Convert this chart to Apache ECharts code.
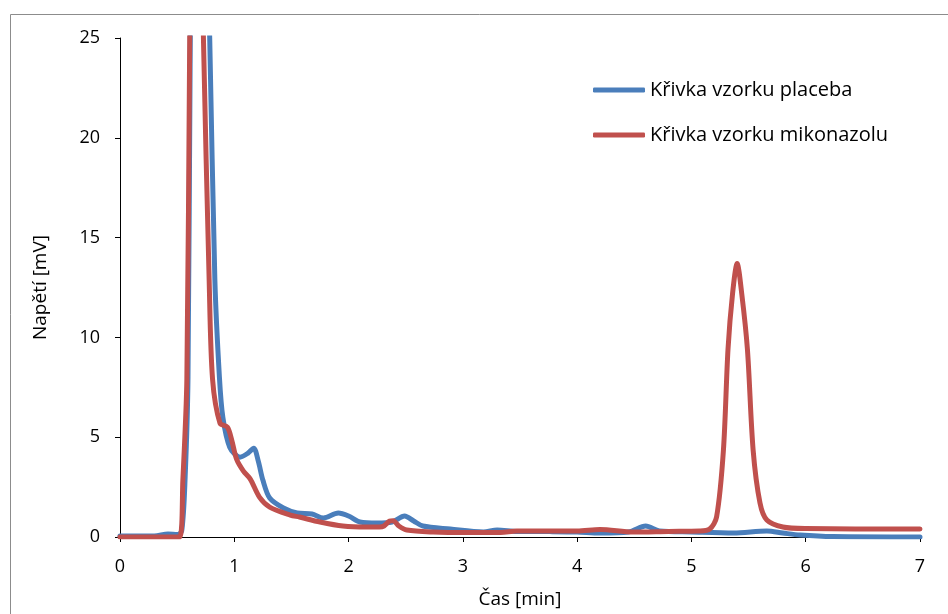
<!DOCTYPE html>
<html>
<head>
<meta charset="utf-8">
<script src="https://cdn.jsdelivr.net/npm/echarts@6/dist/echarts.min.js"></script>
<style>
html, body { margin: 0; padding: 0; background: #fff; }
#chart { width: 948px; height: 614px; }
</style>
</head>
<body>
<div id="chart"></div>
<script>
// cas [min] a napeti [mV]
var placeboTime = [0, 0.3, 0.42, 0.5, 0.54, 0.57, 0.595, 0.615, 0.65, 0.69, 0.74, 0.785, 0.83, 0.87, 0.9, 0.96, 1.05, 1.12, 1.17, 1.21, 1.25, 1.31, 1.43, 1.55, 1.68, 1.78, 1.91, 2.0, 2.1, 2.25, 2.38, 2.49, 2.57, 2.65, 2.89, 3.18, 3.3, 3.47, 3.76, 4.0, 4.2, 4.45, 4.6, 4.72, 5.0, 5.37, 5.66, 5.8, 5.95, 6.24, 7.0];
var placeboValue = [0.05, 0.05, 0.15, 0.12, 0.3, 3.0, 8.0, 25, 42, 45, 35, 25, 12.9, 8.0, 6.0, 4.5, 4.0, 4.2, 4.45, 3.8, 2.85, 1.95, 1.45, 1.2, 1.15, 0.95, 1.2, 1.05, 0.75, 0.7, 0.75, 1.05, 0.8, 0.55, 0.4, 0.25, 0.35, 0.28, 0.27, 0.25, 0.2, 0.25, 0.55, 0.3, 0.25, 0.2, 0.3, 0.2, 0.1, 0.02, 0.0];

var mikoTime = [0, 0.52, 0.55, 0.585, 0.61, 0.64, 0.67, 0.70, 0.73, 0.78, 0.81, 0.875, 0.94, 0.98, 1.02, 1.08, 1.14, 1.22, 1.31, 1.49, 1.57, 1.75, 1.95, 2.16, 2.27, 2.31, 2.36, 2.39, 2.44, 2.51, 2.74, 3.03, 3.33, 3.47, 3.76, 4.0, 4.2, 4.49, 4.8, 5.07, 5.16, 5.22, 5.28, 5.32, 5.36, 5.40, 5.44, 5.49, 5.54, 5.6, 5.66, 5.8, 6.0, 7.0];
var mikoValue = [0, 0, 2.85, 7.9, 25, 40, 42, 35, 25, 12.9, 7.9, 5.7, 5.5, 4.8, 3.9, 3.3, 2.9, 2.0, 1.5, 1.1, 1.0, 0.75, 0.55, 0.5, 0.5, 0.55, 0.8, 0.82, 0.55, 0.35, 0.25, 0.22, 0.22, 0.3, 0.3, 0.3, 0.38, 0.25, 0.28, 0.3, 0.4, 1.0, 4.35, 9.4, 12.2, 13.7, 12.2, 9.4, 4.35, 1.7, 0.85, 0.5, 0.42, 0.4];

var xTicks = [0, 1, 2, 3, 4, 5, 6, 7];
var yTicks = [0, 5, 10, 15, 20, 25];

function pairs(t, v) {
	var out = [];
	for (var i = 0; i < t.length; i++) {
		out.push([t[i], v[i]]);
	}
	return out;
}

var myChart = echarts.init(document.getElementById('chart'));
var font = '"Open Sans", "Noto Sans", sans-serif';

var option = {
	animation: false,
	backgroundColor: '#fff',
	textStyle: { fontFamily: font },
	graphic: [{
		type: 'rect',
		shape: { x: 10.5, y: 14.5, width: 960, height: 640 },
		style: { fill: 'none', stroke: '#8c8c8c', lineWidth: 1 },
		silent: true
	}],
	grid: { left: 120, right: 28, top: 38, bottom: 77, containLabel: false, outerBoundsMode: 'none' },
	legend: {
		orient: 'vertical',
		left: 588,
		top: 75,
		itemWidth: 52,
		itemHeight: 5,
		itemGap: 25,
		icon: 'roundRect',
		textStyle: { fontSize: 20, color: '#000', fontFamily: font },
		data: ['Křivka vzorku placeba', 'Křivka vzorku mikonazolu']
	},
	xAxis: {
		type: 'value',
		min: xTicks[0],
		max: xTicks[xTicks.length - 1],
		interval: 1,
		name: 'Čas [min]',
		nameLocation: 'middle',
		nameGap: 53,
		nameTextStyle: { fontSize: 19, color: '#000', fontFamily: font },
		axisLine: { lineStyle: { color: '#000', width: 1 } },
		axisTick: { show: true, inside: false, length: 5, lineStyle: { color: '#000' } },
		axisLabel: { fontSize: 18, color: '#000', margin: 21, fontFamily: font },
		splitLine: { show: false }
	},
	yAxis: {
		type: 'value',
		min: yTicks[0],
		max: yTicks[yTicks.length - 1],
		interval: 5,
		name: 'Napětí [mV]',
		nameLocation: 'middle',
		nameGap: 70,
		nameRotate: 90,
		nameTextStyle: { fontSize: 19, color: '#000', fontFamily: font },
		axisLine: { show: true, lineStyle: { color: '#000', width: 1 } },
		axisTick: { show: true, inside: false, length: 5, lineStyle: { color: '#000' } },
		axisLabel: { fontSize: 18, color: '#000', margin: 20, fontFamily: font },
		splitLine: { show: false }
	},
	series: [
		{
			name: 'Křivka vzorku placeba',
			type: 'line',
			smooth: 0.3,
			showSymbol: false,
			clip: true,
			color: '#4a7ebb',
			lineStyle: { width: 5, color: '#4a7ebb', cap: 'round', join: 'round' },
			data: pairs(placeboTime, placeboValue)
		},
		{
			name: 'Křivka vzorku mikonazolu',
			type: 'line',
			smooth: 0.3,
			showSymbol: false,
			clip: true,
			color: '#c0504d',
			lineStyle: { width: 5, color: '#c0504d', cap: 'round', join: 'round' },
			data: pairs(mikoTime, mikoValue)
		}
	]
};
myChart.setOption(option);
</script>
</body>
</html>
